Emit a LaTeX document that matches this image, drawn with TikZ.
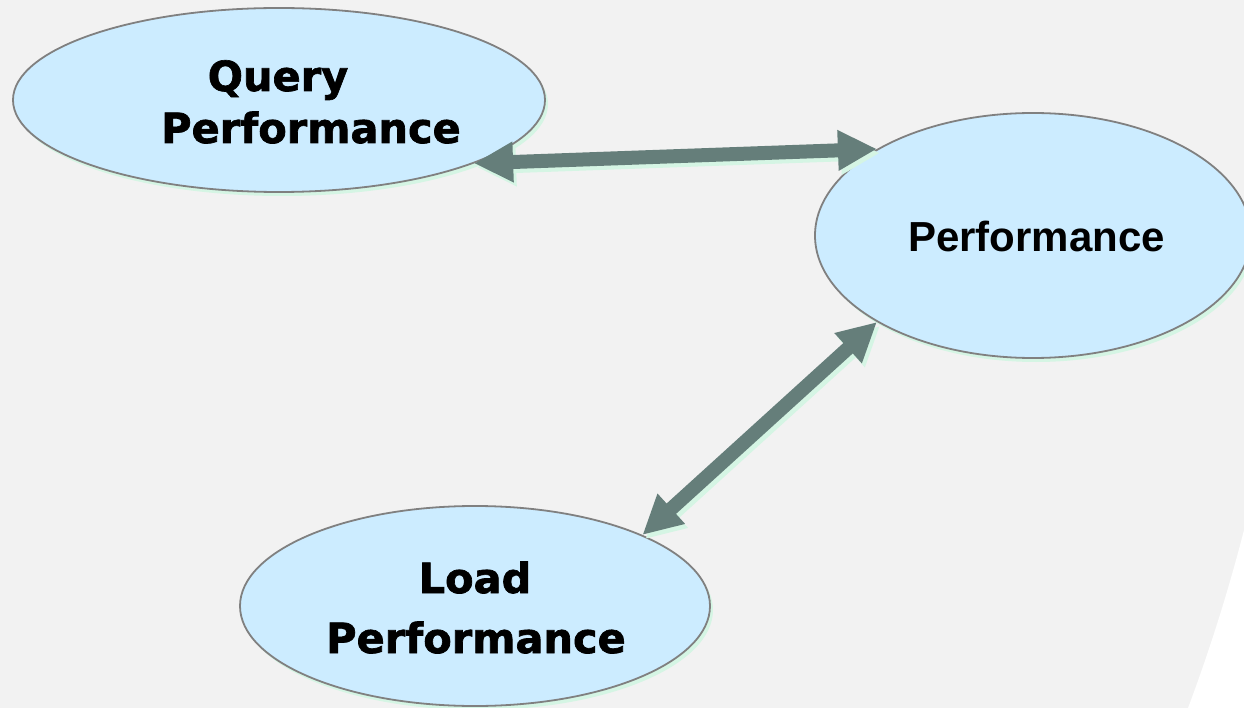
\documentclass[tikz,border=0pt]{standalone}
\usepackage{fontspec}
\newfontfamily\verdfont[BoldFeatures={FakeBold=1.6}]{DejaVu Sans}
\newfontfamily\arialfont{Liberation Sans}
\usetikzlibrary{arrows.meta,shapes.geometric,shadows}
\definecolor{bggray}{RGB}{242,242,242}
\definecolor{ellfill}{RGB}{204,236,255}
\definecolor{ellborder}{RGB}{128,128,128}
\definecolor{shgreen}{RGB}{213,245,228}
\definecolor{arrowcol}{RGB}{101,126,122}
\tikzset{
  bubble/.style={ellipse, draw=ellborder, line width=1.8pt, fill=ellfill, inner sep=0pt,
    general shadow={fill=shgreen, shadow xshift=3pt, shadow yshift=-4pt}},
  lbl/.style={anchor=base, inner sep=0pt, font=\verdfont\bfseries\fontsize{41.5}{48}\selectfont},
  lblarial/.style={anchor=base, inner sep=0pt, font=\arialfont\bfseries\fontsize{42}{48}\selectfont},
  conn/.style={line width=14pt, draw=arrowcol, {Triangle[length=39pt,width=38pt]}-{Triangle[length=39pt,width=38pt]}},
  connsh/.style={line width=14pt, draw=shgreen, {Triangle[length=39pt,width=38pt]}-{Triangle[length=39pt,width=38pt]},
    transform canvas={shift={(3pt,-4pt)}}}
}
\begin{document}
\begin{tikzpicture}[x=1pt,y=-1pt]
\useasboundingbox (0,0) rectangle (1244,708);
\fill[bggray] (0,0) rectangle (1244,708);
\fill[white] (1244,530) .. controls (1226,600) and (1206,660) .. (1188,708) -- (1244,708) -- cycle;

\node[bubble, minimum width=532pt, minimum height=184pt] (q) at (279,100) {};
\node[bubble, minimum width=436pt, minimum height=245pt] (p) at (1033,235.5) {};
\node[bubble, minimum width=470pt, minimum height=200pt] (l) at (475,606) {};

\node[lbl] (q1) at (278,91) {Query};
\node[lbl] (q2) at (311,143) {Performance};
\node[lblarial] (p1) at (1036.5,252) {Performance};
\node[lbl] (l1) at (475,593) {Load};
\node[lbl] (l2) at (476,653) {Performance};

\draw[connsh] (q.-18.3) -- (p.151.3);
\draw[connsh] (l.23) -- (p.209.4);
\draw[conn] (q.-18.3) -- (p.151.3);
\draw[conn] (l.23) -- (p.209.4);
\end{tikzpicture}
\end{document}
